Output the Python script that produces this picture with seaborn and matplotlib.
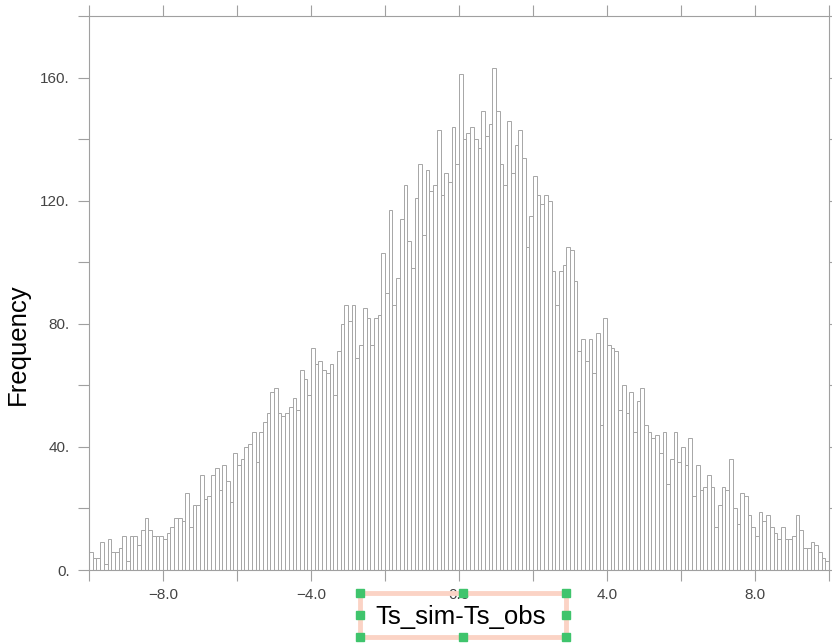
import numpy as np
import pandas as pd
import matplotlib
matplotlib.use("Agg")
import matplotlib.pyplot as plt
import seaborn as sns
from matplotlib.patches import Rectangle

# bin counts, 0.1 wide bins from -10 to 10
counts_m10_m5 = [6, 4, 4, 9, 2, 10, 6, 6, 7, 11, 3, 11, 11, 8, 13, 17, 13, 11, 11, 11,
                 10, 12, 14, 17, 17, 16, 25, 14, 21, 21, 31, 23, 24, 31, 33, 26, 34, 29, 22, 38,
                 34, 36, 40, 41, 45, 35, 45, 48, 51, 58]
counts_m5_0 = [59, 51, 50, 51, 53, 56, 52, 65, 62, 57, 72, 67, 68, 65, 64, 67, 57, 71, 80, 86,
               81, 86, 69, 73, 85, 82, 73, 82, 83, 103, 90, 117, 86, 95, 114, 125, 107, 98, 121, 132,
               109, 130, 123, 125, 143, 122, 129, 126, 144, 132]
counts_0_5 = [161, 140, 142, 144, 140, 137, 149, 141, 145, 163, 149, 132, 125, 146, 129, 138, 143, 134, 105, 115,
              128, 122, 119, 122, 120, 97, 86, 97, 99, 105, 104, 94, 71, 75, 68, 75, 64, 77, 47, 82,
              73, 72, 71, 52, 60, 51, 58, 45, 55, 59]
counts_5_10 = [47, 45, 43, 44, 38, 45, 28, 36, 45, 35, 40, 34, 43, 24, 34, 26, 27, 31, 27, 14,
               21, 27, 26, 36, 20, 15, 25, 24, 18, 14, 11, 19, 16, 18, 14, 12, 10, 14, 10, 10,
               11, 18, 13, 7, 7, 9, 8, 6, 4, 3]

x_range = (-10.0, 10.0)
bin_width = 0.1

xticks = [-8, -4, 0, 4, 8]
xtick_labels = ["\u22128.0", "\u22124.0", "0.0", "4.0", "8.0"]
xminor = [-10, -6, -2, 2, 6, 10]
yticks = [0, 40, 80, 120, 160]
ytick_labels = ["0.", "40.", "80.", "120.", "160."]
yminor = [20, 60, 100, 140, 180]

counts = counts_m10_m5 + counts_m5_0 + counts_0_5 + counts_5_10
centers = x_range[0] + bin_width * (np.arange(len(counts)) + 0.5)
df = pd.DataFrame({"diff": centers, "n": counts})

sns.set_style("ticks")
plt.rcParams["font.family"] = ["Liberation Sans", "DejaVu Sans"]

fig = plt.figure(figsize=(8.32, 6.43), dpi=100)
ax = fig.add_axes([0.107, 0.1135, 0.8894, 0.8616])

sns.histplot(data=df, x="diff", weights="n", bins=len(counts), binrange=x_range,
             color="white", edgecolor="#a6a6a6", linewidth=0.7, alpha=1, ax=ax)

ax.set_xlim(*x_range)
ax.set_ylim(0, 180)
ax.set_xticks(xticks)
ax.set_xticklabels(xtick_labels)
ax.set_xticks(xminor, minor=True)
ax.set_yticks(yticks)
ax.set_yticklabels(ytick_labels)
ax.set_yticks(yminor, minor=True)
ax.set_xlabel("")
ax.set_ylabel("")

for s in ax.spines.values():
    s.set_visible(True)
    s.set_color("#a0a0a0")
    s.set_linewidth(0.8)

ax.tick_params(which="both", direction="out", length=8, width=0.8, color="#a0a0a0",
               top=True, right=True, labeltop=False, labelright=False,
               labelsize=11, labelcolor="#444444", pad=5)
ax.tick_params(axis="y", pad=6)

# axis titles
fig.text(0.0216, 0.465, "Frequency", rotation=90, fontsize=18.5,
         ha="center", va="center", color="black")
fig.text(0.5535, 0.040, "Ts_sim-Ts_obs", fontsize=18.5,
         ha="center", va="center", color="black")

# selection box around the x label (as in the screenshot)
bx, by, bw, bh = 360 / 832, 6 / 643, 206 / 832, 44 / 643
fig.patches.append(Rectangle((bx, by), bw, bh, transform=fig.transFigure,
                             fill=False, edgecolor="#fbd3c5", linewidth=3.5, zorder=5))
hw, hh = 8 / 832, 8 / 643
for fx in [0, 0.5, 1]:
    for fy in [0, 0.5, 1]:
        if fx == 0.5 and fy == 0.5:
            continue
        cx, cy = bx + fx * bw, by + fy * bh
        fig.patches.append(Rectangle((cx - hw / 2, cy - hh / 2), hw, hh,
                                     transform=fig.transFigure, facecolor="#3fc46c",
                                     edgecolor="#3fc46c", zorder=6))

fig.savefig("out.png", dpi=100)
